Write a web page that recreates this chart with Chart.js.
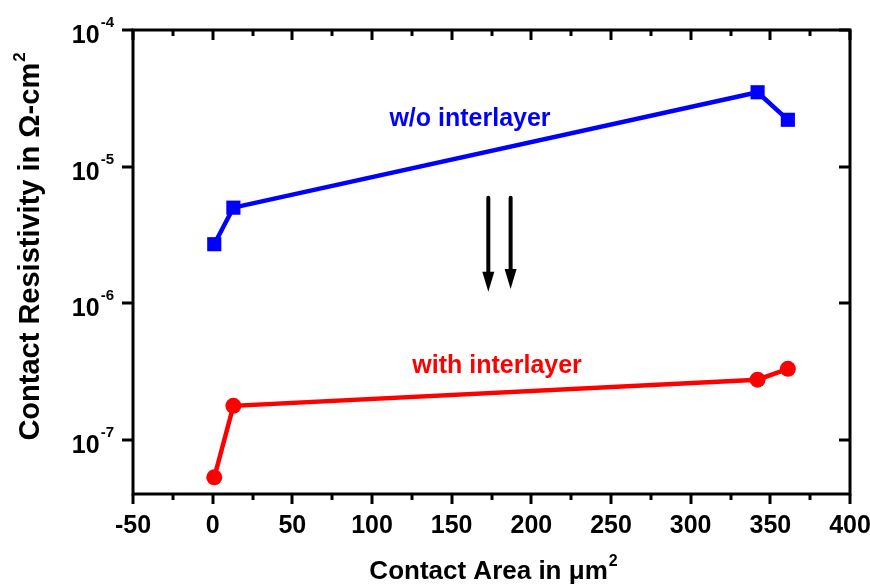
<!DOCTYPE html>
<html>
<head>
<meta charset="utf-8">
<script src="https://cdn.jsdelivr.net/npm/chart.js@4/dist/chart.umd.min.js"></script>
<style>
  body { margin: 0; background: #fff; }
  canvas { display: block; }
</style>
</head>
<body>
<canvas id="grafico" width="870" height="586"></canvas>
<script>
// dados
const areaSem = [1, 13, 342, 361];
const resistSem = [2.7e-6, 5.0e-6, 3.5e-5, 2.2e-5];
const areaCom = [1, 13, 342, 361];
const resistCom = [5.3e-8, 1.77e-7, 2.75e-7, 3.3e-7];

const xTicks = [-50, 0, 50, 100, 150, 200, 250, 300, 350, 400];
const xMinor = [-25, 25, 75, 125, 175, 225, 275, 325, 375];
const yExpoentes = [-7, -6, -5, -4];

// setas (em unidades dos dados)
const setasX = [173, 187];
const setaTopo = 5.9e-6;
const setaPonta = [1.21e-6, 1.27e-6];

const fonte = '"Liberation Sans", Arial, sans-serif';

function pontos(xs, ys) {
    return xs.map(function (x, i) { return { x: x, y: ys[i] }; });
}

const desenhoEixos = {
    id: 'desenhoEixos',
    afterDraw(chart) {
        const ctx = chart.ctx;
        const a = chart.chartArea;
        const sx = chart.scales.x;
        const sy = chart.scales.y;
        ctx.save();
        ctx.strokeStyle = '#000';
        ctx.fillStyle = '#000';
        ctx.lineWidth = 3;
        ctx.strokeRect(a.left, a.top, a.right - a.left, a.bottom - a.top);

        // ticks do eixo x (baixo para fora, topo para dentro)
        xTicks.forEach(function (v) {
            const px = Math.round(sx.getPixelForValue(v));
            ctx.beginPath();
            ctx.moveTo(px, a.bottom); ctx.lineTo(px, a.bottom + 10);
            ctx.moveTo(px, a.top); ctx.lineTo(px, a.top + 10);
            ctx.stroke();
        });
        xMinor.forEach(function (v) {
            const px = Math.round(sx.getPixelForValue(v));
            ctx.beginPath();
            ctx.moveTo(px, a.bottom); ctx.lineTo(px, a.bottom + 6);
            ctx.moveTo(px, a.top); ctx.lineTo(px, a.top + 6);
            ctx.stroke();
        });
        // ticks do eixo y
        yExpoentes.forEach(function (e) {
            const py = Math.round(sy.getPixelForValue(Math.pow(10, e)));
            ctx.beginPath();
            ctx.moveTo(a.left - 11, py); ctx.lineTo(a.left, py);
            ctx.moveTo(a.right - 11, py); ctx.lineTo(a.right, py);
            ctx.stroke();
        });

        // rótulos x
        ctx.font = 'bold 25px ' + fonte;
        ctx.textAlign = 'center';
        ctx.textBaseline = 'alphabetic';
        xTicks.forEach(function (v) {
            ctx.fillText(String(v), sx.getPixelForValue(v), a.bottom + 39);
        });

        // rótulos y com expoente
        yExpoentes.forEach(function (e) {
            const py = sy.getPixelForValue(Math.pow(10, e));
            ctx.font = 'bold 15px ' + fonte;
            ctx.textAlign = 'left';
            const expo = '-' + Math.abs(e);
            const we = ctx.measureText(expo).width;
            ctx.fillText(expo, a.left - 19 - we, py - 3);
            ctx.font = 'bold 25px ' + fonte;
            ctx.textAlign = 'right';
            ctx.fillText('10', a.left - 20 - we, py + 13);
        });

        // títulos dos eixos
        ctx.font = 'bold 26px ' + fonte;
        ctx.textAlign = 'left';
        const tx = 'Contact Area in \u03BCm';
        const wx = ctx.measureText(tx).width;
        ctx.font = 'bold 16px ' + fonte;
        const w2 = ctx.measureText('2').width;
        let x0 = 493 - (wx + w2) / 2;
        ctx.font = 'bold 26px ' + fonte;
        ctx.fillText(tx, x0, 579);
        ctx.font = 'bold 16px ' + fonte;
        ctx.fillText('2', x0 + wx + 1, 566);

        ctx.save();
        ctx.translate(39, 247);
        ctx.rotate(-Math.PI / 2);
        ctx.font = 'bold 29px ' + fonte;
        const ty = 'Contact Resistivity in \u03A9-cm';
        const wy = ctx.measureText(ty).width;
        ctx.font = 'bold 17px ' + fonte;
        const wy2 = ctx.measureText('2').width;
        const y0 = -(wy + wy2) / 2;
        ctx.font = 'bold 29px ' + fonte;
        ctx.fillText(ty, y0, 0);
        ctx.font = 'bold 17px ' + fonte;
        ctx.fillText('2', y0 + wy + 1, -14);
        ctx.restore();

        // textos das séries
        ctx.font = 'bold 25px ' + fonte;
        ctx.textAlign = 'center';
        ctx.textBaseline = 'middle';
        ctx.fillStyle = '#0000ff';
        ctx.fillText('w/o interlayer', sx.getPixelForValue(161.5), sy.getPixelForValue(2.23e-5));
        ctx.fillStyle = '#ff0000';
        ctx.fillText('with interlayer', sx.getPixelForValue(178.5), sy.getPixelForValue(3.48e-7));

        // setas
        ctx.fillStyle = '#000';
        ctx.lineWidth = 4;
        ctx.lineCap = 'round';
        setasX.forEach(function (v, i) {
            const px = sx.getPixelForValue(v);
            const pt = sy.getPixelForValue(setaTopo);
            const pp = sy.getPixelForValue(setaPonta[i]);
            ctx.beginPath();
            ctx.moveTo(px, pt); ctx.lineTo(px, pp - 16);
            ctx.stroke();
            ctx.beginPath();
            ctx.moveTo(px - 6, pp - 20); ctx.lineTo(px + 6, pp - 20); ctx.lineTo(px, pp);
            ctx.closePath();
            ctx.fill();
        });
        ctx.restore();
    }
};

const ctx = document.getElementById('grafico').getContext('2d');
new Chart(ctx, {
    type: 'line',
    data: {
        datasets: [{
            label: 'w/o interlayer',
            data: pontos(areaSem, resistSem),
            borderColor: '#0000ff',
            backgroundColor: '#0000ff',
            borderWidth: 4.5,
            pointStyle: 'rect',
            pointRadius: 10,
            pointBorderWidth: 0,
            tension: 0,
            clip: false
        }, {
            label: 'with interlayer',
            data: pontos(areaCom, resistCom),
            borderColor: '#ff0000',
            backgroundColor: '#ff0000',
            borderWidth: 4.5,
            pointStyle: 'circle',
            pointRadius: 8,
            pointBorderWidth: 0,
            tension: 0,
            clip: false
        }]
    },
    options: {
        responsive: false,
        animation: false,
        devicePixelRatio: 1,
        layout: { padding: { left: 133, top: 30, right: 20, bottom: 92 } },
        plugins: { legend: { display: false }, tooltip: { enabled: false } },
        scales: {
            x: { type: 'linear', min: -50, max: 400, display: false },
            y: { type: 'logarithmic', min: 4e-8, max: 1e-4, display: false }
        }
    },
    plugins: [desenhoEixos]
});
</script>
</body>
</html>
